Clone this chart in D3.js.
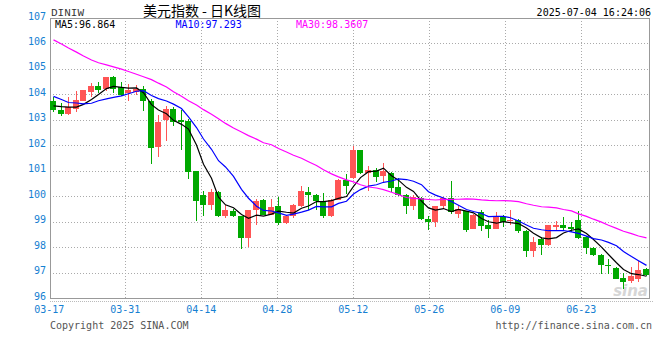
<!DOCTYPE html>
<html><head><meta charset="utf-8">
<script src="https://cdn.jsdelivr.net/npm/d3@7"></script>
<style>body{margin:0;background:#fff}svg{display:block}</style>
</head><body><svg id="c" width="660" height="360"></svg>
<script>
// ---------- data ----------
const dates = ["03-17","03-18","03-19","03-20","03-21","03-24","03-25","03-26","03-27","03-28",
  "03-31","04-01","04-02","04-03","04-04","04-07","04-08","04-09","04-10","04-11",
  "04-14","04-15","04-16","04-17","04-18","04-21","04-22","04-23","04-24","04-25",
  "04-28","04-29","04-30","05-01","05-02","05-05","05-06","05-07","05-08","05-09",
  "05-12","05-13","05-14","05-15","05-16","05-19","05-20","05-21","05-22","05-23",
  "05-26","05-27","05-28","05-29","05-30","06-02","06-03","06-04","06-05","06-06",
  "06-09","06-10","06-11","06-12","06-13","06-16","06-17","06-18","06-19","06-20",
  "06-23","06-24","06-25","06-26","06-27","06-30","07-01","07-02","07-03","07-04"];
const open  = [103.74,103.39,103.22,103.44,103.74,104.10,104.32,104.22,104.67,104.27,
  104.06,104.10,104.21,103.74,101.92,103.00,103.43,102.98,102.97,101.00,
  100.03,99.64,100.18,99.22,99.43,99.22,98.37,99.44,99.86,99.28,
  99.61,98.93,99.22,99.61,100.17,100.03,99.83,99.22,99.86,100.65,
  100.71,101.80,100.93,101.02,100.80,100.92,100.35,100.05,99.60,99.94,
  99.10,99.00,99.60,99.92,99.31,99.40,98.71,99.38,98.86,98.73,
  99.20,99.01,99.06,98.64,97.84,98.30,98.10,98.80,98.88,98.80,
  99.08,98.41,97.98,97.70,97.31,97.19,96.80,96.65,96.74,97.13];
const high  = [103.91,103.65,103.91,104.13,104.19,104.43,104.49,104.67,104.72,104.49,
  104.40,104.35,104.32,103.81,103.20,103.55,103.52,103.39,103.03,101.00,
  100.22,100.28,100.21,99.64,99.51,99.22,99.44,99.87,99.88,99.90,
  99.96,99.28,99.69,100.41,100.38,100.09,100.13,99.90,100.67,100.87,
  101.99,101.82,101.19,101.09,101.32,100.96,100.70,100.09,100.05,99.96,
  99.22,99.61,99.96,100.60,99.64,99.41,99.31,99.47,99.08,99.38,
  99.27,99.45,99.09,98.66,98.40,98.38,98.88,99.03,99.20,98.97,
  99.43,98.43,98.00,97.71,97.53,97.20,96.99,97.20,97.45,97.19];
const low   = [103.29,103.16,103.20,103.29,103.72,103.91,104.04,104.14,104.04,103.94,
  103.72,103.99,103.33,101.26,101.54,102.16,102.75,101.81,100.68,99.02,
  99.21,99.47,99.18,99.15,99.20,97.93,98.02,98.86,99.26,99.25,
  98.86,98.90,99.15,99.58,99.44,99.44,99.15,99.20,99.84,100.09,
  100.67,100.87,100.22,100.57,100.52,100.16,99.99,99.31,99.44,99.06,
  98.67,98.78,99.51,99.31,99.15,98.60,98.71,98.63,98.37,98.73,
  98.80,98.85,98.55,97.60,97.60,97.70,98.05,98.66,98.65,98.58,
  98.33,97.73,97.65,96.93,96.93,96.73,96.34,96.60,96.63,96.85];
const close = [103.37,103.22,103.50,103.78,104.17,104.34,104.17,104.67,104.22,103.99,
  104.17,104.21,103.72,101.89,102.93,103.43,102.93,102.93,100.96,99.80,
  99.66,100.18,99.22,99.44,99.22,98.34,99.44,99.82,99.28,99.59,
  98.93,99.22,99.66,100.22,100.03,99.81,99.21,99.86,100.65,100.41,
  101.80,100.93,101.02,100.76,101.00,100.32,100.05,99.60,99.96,99.09,
  99.00,99.60,99.92,99.38,99.51,98.67,99.25,98.82,98.73,99.22,
  98.99,99.05,98.63,97.84,98.19,98.10,98.86,98.87,98.76,98.72,
  98.37,97.95,97.68,97.28,97.26,96.76,96.63,96.85,97.11,96.92];
// moving-average values at the left edge (their windows start before the chart)
const ma5Head  = [103.55,103.52,103.50,103.50];
const ma10Head = [103.92,103.80,103.68,103.66,103.63,103.65,103.75,103.82,103.88];
const ma30Head = [106.14,105.98,105.82,105.66,105.51,105.35,105.24,105.16,105.08,104.99,
  104.90,104.79,104.69,104.58,104.44,104.29,104.10,103.93,103.75,103.58,
  103.40,103.22,103.04,102.86,102.68,102.52,102.38,102.24,102.10];
const maNames  = ["MA5","MA10","MA30"];
const maLabels = ["96.864","97.293","98.3607"];
const yTicks = [96,97,98,99,100,101,102,103,104,105,106,107];
const xTickLabels = ["03-17","03-31","04-14","04-28","05-12","05-26","06-09","06-23"];
const symbol = "DINIW";
const title = "美元指数 - 日K线图";
const stamp = "2025-07-04 16:24:06";

// ---------- layout / style ----------
const L = 50, R = 650, T = 18, B = 298;
const UP = "#ff5555", DOWN = "#00a800";
const MA_COLORS = ["#000000", "#0000ff", "#ff00ff"];
const AXIS_BLUE = "#1680d2";
const MONO = "'DejaVu Sans Mono', monospace";

const svg = d3.select("#c");
const n = close.length;
const x = d3.scaleLinear().domain([0, n]).range([L, R]);
const y = d3.scaleLinear().domain([96, 107]).range([B, T]);
const xGrid = d3.scaleLinear().domain([0, xTickLabels.length]).range([49.3, 49.3 + 76 * xTickLabels.length]);
const px = v => Math.round(v);
const bx = i => px(x(i));

// grid
const g = svg.append("g").attr("shape-rendering", "crispEdges");
g.selectAll(".hg").data(yTicks.filter(v => v > 96 && v < 107)).join("line")
  .attr("x1", L).attr("x2", R).attr("y1", d => px(y(d)) + 0.5).attr("y2", d => px(y(d)) + 0.5)
  .attr("stroke", "#aaaaaa").attr("stroke-dasharray", "1,2");
g.selectAll(".vg").data(d3.range(1, xTickLabels.length)).join("line")
  .attr("x1", d => Math.floor(xGrid(d)) + 0.5).attr("x2", d => Math.floor(xGrid(d)) + 0.5)
  .attr("y1", T).attr("y2", B)
  .attr("stroke", "#aaaaaa").attr("stroke-dasharray", "1,2");
// frame
g.append("line").attr("x1", L).attr("x2", R).attr("y1", T + 0.5).attr("y2", T + 0.5).attr("stroke", "#999");
g.append("line").attr("x1", L).attr("x2", R).attr("y1", B + 0.5).attr("y2", B + 0.5).attr("stroke", "#999");
g.append("line").attr("x1", L + 0.5).attr("x2", L + 0.5).attr("y1", T).attr("y2", B + 1).attr("stroke", "#999");
g.append("line").attr("x1", R - 0.5).attr("x2", R - 0.5).attr("y1", T).attr("y2", B + 1).attr("stroke", "#999");
g.append("line").attr("x1", L).attr("x2", R + 4).attr("y1", B + 3.5).attr("y2", B + 3.5)
  .attr("stroke", "#bbb").attr("stroke-dasharray", "1,1");

// y axis labels
svg.selectAll(".yl").data(yTicks).join("text")
  .attr("x", 46).attr("y", d => y(d) + 1.5).attr("text-anchor", "end")
  .attr("font-family", MONO).attr("font-size", 10).attr("fill", AXIS_BLUE).text(d => d);
// x axis labels
svg.selectAll(".xl").data(xTickLabels).join("text")
  .attr("x", (d, i) => xGrid(i)).attr("y", 313).attr("text-anchor", "middle")
  .attr("font-family", MONO).attr("font-size", 10).attr("fill", AXIS_BLUE).text(d => d);

// watermark
svg.append("text").attr("x", 648).attr("y", 296).attr("text-anchor", "end")
  .attr("font-family", "'DejaVu Sans', sans-serif").attr("font-style", "italic").attr("font-weight", "bold")
  .attr("font-size", 15).attr("fill", "#cfcfcf").attr("opacity", 0.85).text("sina");

// candles
const cg = svg.append("g").attr("shape-rendering", "crispEdges");
const idx = d3.range(n);
cg.selectAll(".wick").data(idx).join("rect")
  .attr("x", i => bx(i) + 3).attr("width", 1)
  .attr("y", i => px(y(high[i])))
  .attr("height", i => Math.max(1, px(y(low[i])) - px(y(high[i]))))
  .attr("fill", i => close[i] >= open[i] ? UP : DOWN);
cg.selectAll(".body").data(idx).join("rect")
  .attr("x", i => bx(i)).attr("width", 6)
  .attr("y", i => px(y(Math.max(open[i], close[i]))))
  .attr("height", i => Math.max(1, px(y(Math.min(open[i], close[i]))) - px(y(Math.max(open[i], close[i])))))
  .attr("fill", i => close[i] >= open[i] ? UP : DOWN);

// moving averages
function ma(period, head) {
  return idx.map(i => i < period - 1 ? head[i] : d3.mean(close.slice(i - period + 1, i + 1)));
}
const maSeries = [ma(5, ma5Head), ma(10, ma10Head), ma(30, ma30Head)];
const line = d3.line().x((d, i) => bx(i) + 3.5).y(d => y(d));
svg.selectAll(".ma").data(maSeries).join("path")
  .attr("d", d => line(d)).attr("fill", "none")
  .attr("stroke", (d, i) => MA_COLORS[i]).attr("stroke-width", 1.2);

// header
svg.append("text").attr("x", 51).attr("y", 16).attr("font-family", "'Liberation Mono', monospace")
  .attr("font-size", 11).attr("fill", "#333").text(symbol);
svg.append("text").attr("x", 202).attr("y", 16).attr("text-anchor", "middle")
  .attr("font-family", "'Noto Sans CJK SC', sans-serif").attr("font-size", 14).attr("fill", "#000").text(title);
svg.append("text").attr("x", 651).attr("y", 16).attr("text-anchor", "end")
  .attr("font-family", MONO).attr("font-size", 10).attr("fill", "#000").text(stamp);
svg.selectAll(".leg").data(maNames).join("text")
  .attr("x", (d, i) => 55 + 120.5 * i).attr("y", 27.5)
  .attr("font-family", MONO).attr("font-size", 10).attr("fill", (d, i) => MA_COLORS[i])
  .text((d, i) => d + ":" + maLabels[i]);

// footer
svg.append("text").attr("x", 50).attr("y", 329).attr("font-family", MONO).attr("font-size", 10)
  .attr("fill", "#555").text("Copyright 2025 SINA.COM");
svg.append("text").attr("x", 652).attr("y", 329).attr("text-anchor", "end").attr("font-family", MONO)
  .attr("font-size", 10).attr("fill", "#555").text("http://finance.sina.com.cn");
</script></body></html>
